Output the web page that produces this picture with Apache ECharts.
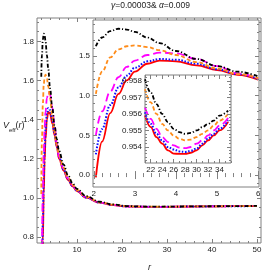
<!DOCTYPE html>
<html><head><meta charset="utf-8">
<script src="https://cdn.jsdelivr.net/npm/echarts@6/dist/echarts.min.js"></script>
<style>html,body{margin:0;padding:0;background:#fff}#c{width:266px;height:280px}</style>
</head><body><div id="c"></div>
<script>
// radial coordinate samples
const r = [2.05, 2.2, 2.4, 2.6, 2.8, 3.0, 3.3, 3.6, 4.0, 4.5, 5.0, 5.5, 6.0,
  7, 8, 9, 10, 12, 15, 18,
  21, 22, 23, 24, 25, 26, 27, 28, 29, 30, 31, 32, 33, 34, 35.5,
  40, 45, 50];
// effective potential values for the five curves
const black = [1.62, 1.73, 1.81, 1.84, 1.83, 1.80, 1.73, 1.66, 1.56, 1.46, 1.37, 1.30, 1.24,
  1.17, 1.115, 1.075, 1.046, 1.009, 0.980, 0.966,
  0.9581, 0.9573, 0.9566, 0.9560, 0.9555, 0.9551, 0.9549, 0.9548, 0.95485, 0.9550, 0.9552, 0.9554, 0.9556, 0.9559, 0.9562,
  0.9570, 0.9578, 0.9586];
const orange = [1.02, 1.30, 1.48, 1.58, 1.62, 1.63, 1.61, 1.57, 1.51, 1.42, 1.34, 1.27, 1.22,
  1.155, 1.105, 1.068, 1.041, 1.006, 0.978, 0.965,
  0.9575, 0.9567, 0.9560, 0.9554, 0.9550, 0.9547, 0.9545, 0.9544, 0.95445, 0.9546, 0.9548, 0.9550, 0.9553, 0.9556, 0.9560,
  0.9568, 0.9576, 0.9584];
const magenta = [0.50, 0.80, 1.05, 1.23, 1.36, 1.44, 1.51, 1.54, 1.53, 1.46, 1.37, 1.28, 1.21,
  1.15, 1.10, 1.064, 1.038, 1.004, 0.977, 0.964,
  0.9564, 0.9557, 0.9551, 0.9546, 0.9543, 0.9541, 0.95397, 0.95393, 0.9540, 0.9542, 0.9544, 0.9547, 0.9550, 0.9553, 0.95575,
  0.9565, 0.9574, 0.9582];
const blue = [0.26, 0.58, 0.88, 1.10, 1.25, 1.35, 1.43, 1.46, 1.45, 1.40, 1.33, 1.27, 1.21,
  1.145, 1.095, 1.061, 1.036, 1.002, 0.976, 0.9635,
  0.9561, 0.9554, 0.9548, 0.9544, 0.9540, 0.95385, 0.95373, 0.9537, 0.95377, 0.9539, 0.9542, 0.9545, 0.9548, 0.9551, 0.95562,
  0.9564, 0.9573, 0.9581];
const red = [-0.03, 0.42, 0.78, 1.02, 1.19, 1.30, 1.40, 1.44, 1.43, 1.38, 1.32, 1.26, 1.20,
  1.14, 1.092, 1.059, 1.034, 1.001, 0.9755, 0.963,
  0.9559, 0.9552, 0.9546, 0.9542, 0.9538, 0.9536, 0.95358, 0.95358, 0.95365, 0.9538, 0.9541, 0.9544, 0.9547, 0.9550, 0.95552,
  0.9563, 0.9572, 0.9580];
// tick labels
const mainXLabels = [10, 20, 30, 40, 50];
const mainYLabels = [0.8, 1.0, 1.2, 1.4, 1.6, 1.8];
const in1XLabels = [2, 3, 4, 5, 6];
const in1YLabels = [0.0, 0.5, 1.0, 1.5];
const in2XLabels = [22, 24, 26, 28, 30, 32, 34];
const in2YLabels = [0.954, 0.955, 0.956, 0.957, 0.958];
const titleText = '{i|γ}=0.00003& {i|α}=0.009';

const FONT = '"Liberation Sans", Arial, sans-serif';
const FRAME = '#808080';
function seq(a, b, step) {
  const n = Math.round((b - a) / step);
  const out = [];
  for (let i = 0; i <= n; i++) out.push(+(a + i * step).toFixed(6));
  return out;
}
const seriesDefs = [
  {vals: red, color: '#ff0000', dash: 'solid', w: 1.8},
  {vals: blue, color: '#1010ff', dash: [1.6, 1.6], w: 2},
  {vals: magenta, color: '#ff00ff', dash: [8, 4], w: 1.8},
  {vals: orange, color: '#ff8c1a', dash: [4, 2.5], w: 1.8},
  {vals: black, color: '#000000', dash: [4, 2, 1.2, 2], w: 1.8}
];
const xAxes = [], yAxes = [], series = [];
function addAxes(grid, z, xr, yr, xMinor, xMajor, yMinor, yMajor, xLab, yLab, xFmt, yFmt) {
  const base = (min, max, pos, ticks, len, labs, fmt) => ({
    type: 'value', gridIndex: grid, min: min, max: max, position: pos, z: z,
    axisLine: {show: false}, splitLine: {show: false},
    axisTick: {show: true, inside: true, length: len, customValues: ticks, lineStyle: {color: FRAME, width: 1}},
    axisLabel: labs ? {show: true, customValues: labs, formatter: fmt, fontSize: 8, color: '#222', margin: 3, fontFamily: FONT, hideOverlap: false, showMinLabel: true, showMaxLabel: true}
                    : {show: false}
  });
  const xi = xAxes.length, yi = yAxes.length;
  xAxes.push(base(xr[0], xr[1], 'bottom', xMinor, 2, xLab, xFmt));
  xAxes.push(base(xr[0], xr[1], 'bottom', xMajor, 4, null));
  xAxes.push(base(xr[0], xr[1], 'top', xMinor, 2, null));
  xAxes.push(base(xr[0], xr[1], 'top', xMajor, 4, null));
  yAxes.push(base(yr[0], yr[1], 'left', yMinor, 2, yLab, yFmt));
  yAxes.push(base(yr[0], yr[1], 'left', yMajor, 4, null));
  yAxes.push(base(yr[0], yr[1], 'right', yMinor, 2, null));
  yAxes.push(base(yr[0], yr[1], 'right', yMajor, 4, null));
  return [xi, yi];
}
function addSeries(ax, z, rmin, rmax) {
  seriesDefs.forEach((s, k) => {
    series.push({
      type: 'line', xAxisIndex: ax[0], yAxisIndex: ax[1], z: z, showSymbol: false, symbol: 'none',
      smooth: 0.4, smoothMonotone: 'x', clip: true, animation: false,
      lineStyle: {color: s.color, width: s.w, type: s.dash},
      data: r.map((x, i) => [x, s.vals[i]]).filter(p => p[0] >= rmin && p[0] <= rmax)
    });
  });
}
const grids = [
  {left: 37, top: 18, width: 224, height: 225, show: true, borderColor: FRAME, borderWidth: 1, backgroundColor: '#fff', z: 0},
  {left: 93, top: 20, width: 166, height: 167, show: true, borderColor: FRAME, borderWidth: 1, backgroundColor: '#fff', z: 5},
  {left: 145, top: 75, width: 86, height: 88, show: true, borderColor: FRAME, borderWidth: 1, backgroundColor: '#fff', z: 8}
];
const a0 = addAxes(0, 3, [1.1, 50.9], [0.769, 1.92], seq(2, 50, 2), seq(10, 50, 10), seq(0.8, 1.9, 0.05), seq(0.8, 1.8, 0.2),
  mainXLabels, mainYLabels, v => String(Math.round(v)), v => v.toFixed(1));
addSeries(a0, 2, 0, 60);
const a1 = addAxes(1, 7, [1.98, 6.02], [-0.15, 1.95], seq(2, 6, 0.2), seq(2, 6, 1), seq(-0.1, 1.9, 0.1), seq(0, 1.5, 0.5),
  in1XLabels, in1YLabels, v => String(Math.round(v)), v => v.toFixed(1));
addSeries(a1, 6, 2, 6.01);
const a2 = addAxes(2, 10, [21, 36], [0.95303, 0.95836], seq(21, 36, 1), seq(22, 34, 2), seq(0.9532, 0.9582, 0.0002), seq(0.954, 0.958, 0.001),
  in2XLabels, in2YLabels, v => String(Math.round(v)), v => v.toFixed(3));
addSeries(a2, 9, 21, 35.6);

const chart = echarts.init(document.getElementById('c'), null, {renderer: 'canvas'});
chart.setOption({
  animation: false,
  backgroundColor: '#fff',
  grid: grids,
  xAxis: xAxes,
  yAxis: yAxes,
  series: series,
  graphic: [
    {type: 'text', left: 111, top: 1, z: 20, style: {text: titleText, fontSize: 8.5, fontFamily: FONT, fill: '#222',
      rich: {i: {fontStyle: 'italic', fontSize: 8.5, fontFamily: FONT, fill: '#222'}}}},
    {type: 'text', left: 3, top: 121, z: 20, style: {text: '{i|V}{s|eff}{n|(}{i|r}{n|)}', fontSize: 9, fontFamily: FONT, fill: '#222',
      rich: {i: {fontStyle: 'italic', fontSize: 9, fill: '#222', fontFamily: FONT, verticalAlign: 'top', lineHeight: 12},
             s: {fontSize: 6, fill: '#222', fontFamily: FONT, verticalAlign: 'bottom', lineHeight: 12, padding: [5, 0, 0, 0]},
             n: {fontSize: 9, fill: '#222', fontFamily: FONT, verticalAlign: 'top', lineHeight: 12}}}},
    {type: 'text', left: 148, top: 263, z: 20, style: {text: 'r', fontSize: 9, fontStyle: 'italic', fontFamily: FONT, fill: '#222'}}
  ]
});
</script></body></html>
